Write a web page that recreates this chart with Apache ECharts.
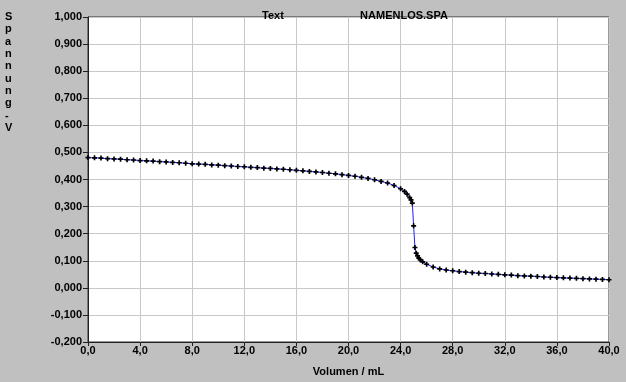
<!DOCTYPE html>
<html><head><meta charset="utf-8">
<script src="https://cdn.jsdelivr.net/npm/echarts@6/dist/echarts.min.js"></script>
<style>html,body{margin:0;padding:0;background:#c0c0c0}#c{width:626px;height:382px}</style>
</head><body><div id="c"></div>
<script>
var volumes = [0.0,0.5,1.0,1.5,2.0,2.5,3.0,3.5,4.0,4.5,5.0,5.5,6.0,6.5,7.0,7.5,8.0,8.5,9.0,9.5,10.0,10.5,11.0,11.5,12.0,12.5,13.0,13.5,14.0,14.5,15.0,15.5,16.0,16.5,17.0,17.5,18.0,18.5,19.0,19.5,20.0,20.5,21.0,21.5,22.0,22.5,23.0,23.5,24.0,24.3,24.5,24.7,24.8,24.9,25.0,25.1,25.2,25.3,25.4,25.5,25.7,26.0,26.5,27.0,27.5,28.0,28.5,29.0,29.5,30.0,30.5,31.0,31.5,32.0,32.5,33.0,33.5,34.0,34.5,35.0,35.5,36.0,36.5,37.0,37.5,38.0,38.5,39.0,39.5,40.0];
var voltages = [0.481,0.480,0.479,0.477,0.476,0.475,0.473,0.472,0.470,0.469,0.468,0.466,0.465,0.463,0.462,0.460,0.458,0.457,0.456,0.454,0.453,0.451,0.450,0.448,0.447,0.445,0.444,0.442,0.441,0.439,0.438,0.436,0.434,0.432,0.430,0.428,0.426,0.423,0.421,0.418,0.415,0.412,0.408,0.404,0.399,0.393,0.387,0.378,0.366,0.356,0.346,0.333,0.325,0.313,0.229,0.149,0.128,0.118,0.110,0.104,0.096,0.087,0.077,0.070,0.066,0.063,0.060,0.058,0.056,0.054,0.053,0.051,0.050,0.048,0.047,0.045,0.044,0.043,0.042,0.040,0.039,0.038,0.037,0.036,0.035,0.034,0.033,0.032,0.031,0.030];
var titleLeft = "Text";
var titleRight = "NAMENLOS.SPA";
var xName = "Volumen / mL";
var yNameLetters = ["S","p","a","n","n","u","n","g","-","V"];

var font = "'Liberation Sans',Arial,sans-serif";
var data = volumes.map(function(v,i){return [v, voltages[i]];});
var chart = echarts.init(document.getElementById('c'), null, {renderer:'canvas'});
var lab = {color:'#000', fontFamily:font, fontWeight:'bold', fontSize:11};
chart.setOption({
  backgroundColor:'#c0c0c0',
  animation:false,
  title:[
    {text:titleLeft, left:268, top:5, textAlign:'center', textStyle:{color:'#000',fontFamily:font,fontWeight:'bold',fontSize:11}},
    {text:titleRight, left:399, top:5, textAlign:'center', textStyle:{color:'#000',fontFamily:font,fontWeight:'bold',fontSize:11}}
  ],
  graphic:[{type:'text', left:5, top:11, style:{text:yNameLetters.join('\n'), fill:'#000', font:'bold 11px '+font, lineHeight:12.3, align:'center'}}],
  grid:{left:88, right:17, top:17, bottom:40, show:true, backgroundColor:'#ffffff', borderColor:'#303030', borderWidth:1},
  xAxis:{type:'value', min:0, max:40, interval:4, name:xName, nameLocation:'middle', nameGap:24,
    nameTextStyle:lab,
    axisLine:{show:true,onZero:false,lineStyle:{color:'#202020',width:1}},
    axisTick:{show:true,length:4,lineStyle:{color:'#202020'}},
    axisLabel:Object.assign({margin:3, formatter:function(v){return v.toFixed(1).replace('.',',');}}, lab),
    splitLine:{show:true,lineStyle:{color:'#c8c8c8',width:1}}},
  yAxis:{type:'value', min:-0.2, max:1.0, interval:0.1,
    axisLine:{show:true,onZero:false,lineStyle:{color:'#202020',width:1}},
    axisTick:{show:true,length:5,lineStyle:{color:'#202020'}},
    axisLabel:Object.assign({margin:6, formatter:function(v){return v.toFixed(3).replace('.',',');}}, lab),
    splitLine:{show:true,lineStyle:{color:'#c8c8c8',width:1}}},
  series:[{type:'line', data:data,
    lineStyle:{color:'#2020ff',width:1},
    symbol:'path://M1,0h1v1h1v1h-1v1h-1v-1h-1v-1h1z', symbolSize:5,
    itemStyle:{color:'#000'}, showSymbol:true}]
});
</script></body></html>
